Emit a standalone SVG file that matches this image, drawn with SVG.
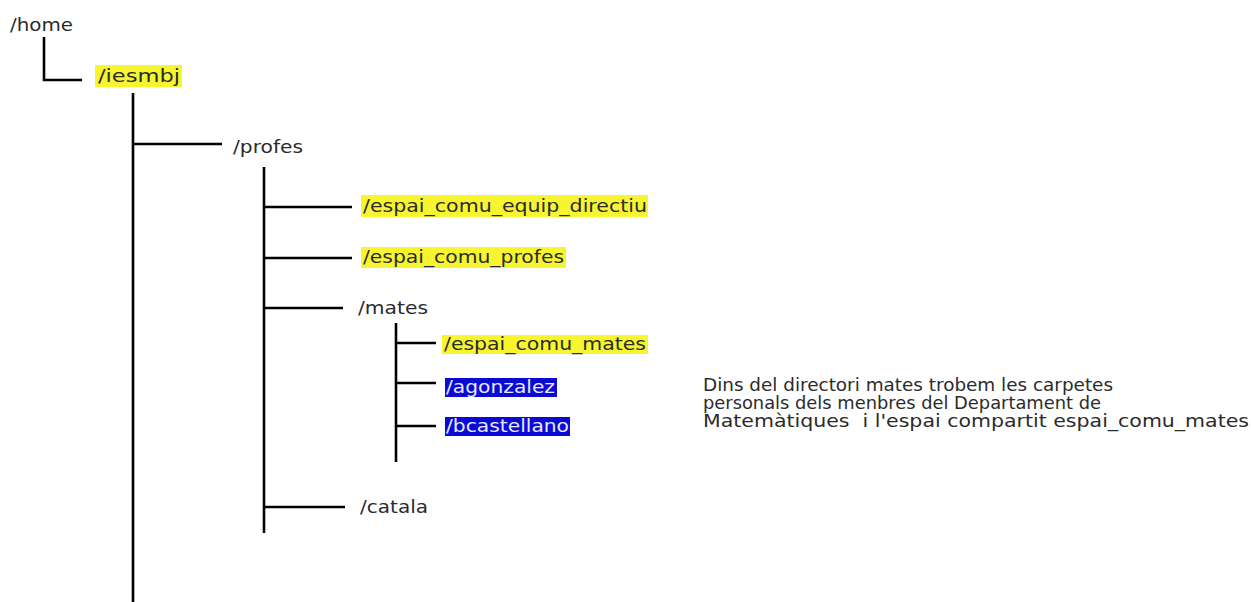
<svg xmlns="http://www.w3.org/2000/svg" width="1251" height="602" viewBox="0 0 1251 602">
  <style>
    .ln { stroke: #000; stroke-width: 2.6; fill: none; stroke-linecap: butt; }
    .t { font-family: "DejaVu Sans", "Liberation Sans", sans-serif; font-size: 18px; fill: #2b2b2b; }
    .tb { font-family: "DejaVu Sans", "Liberation Sans", sans-serif; font-size: 18px; fill: #e8e8ff; }
    .note { font-family: "DejaVu Sans", "Liberation Sans", sans-serif; font-size: 17px; fill: #2b2b2b; }
    .hy { fill: #f7f530; }
    .hb { fill: #0a0ad6; }
  </style>

  <!-- tree branches -->
  <g id="connectors">
    <path class="ln" d="M44,37 V80 H82"/>
    <path class="ln" d="M133,93 V602"/>
    <path class="ln" d="M133,144 H222"/>
    <path class="ln" d="M264,167 V533"/>
    <path class="ln" d="M264,207 H352"/>
    <path class="ln" d="M264,258 H352"/>
    <path class="ln" d="M264,308 H343"/>
    <path class="ln" d="M264,507 H345"/>
    <path class="ln" d="M396,323 V462"/>
    <path class="ln" d="M396,343 H436"/>
    <path class="ln" d="M396,383 H436"/>
    <path class="ln" d="M396,426 H436"/>
  </g>

  <g id="home">
    <text class="t" x="10" y="31" textLength="63" lengthAdjust="spacingAndGlyphs">/home</text>
  </g>

  <g id="iesmbj">
    <rect class="hy" x="95" y="65" width="87" height="22"/>
    <text class="t" x="98" y="82" textLength="82" lengthAdjust="spacingAndGlyphs">/iesmbj</text>
  </g>

  <g id="profes">
    <text class="t" x="233" y="153" textLength="70" lengthAdjust="spacingAndGlyphs">/profes</text>
  </g>

  <g id="espai_comu_equip_directiu">
    <rect class="hy" x="361" y="195" width="287" height="22"/>
    <text class="t" x="363" y="212" textLength="284" lengthAdjust="spacingAndGlyphs">/espai_comu_equip_directiu</text>
  </g>

  <g id="espai_comu_profes">
    <rect class="hy" x="361" y="247" width="205" height="21"/>
    <text class="t" x="363" y="263" textLength="201" lengthAdjust="spacingAndGlyphs">/espai_comu_profes</text>
  </g>

  <g id="mates">
    <text class="t" x="358" y="314" textLength="70" lengthAdjust="spacingAndGlyphs">/mates</text>
  </g>

  <g id="espai_comu_mates">
    <rect class="hy" x="442" y="335" width="206" height="19"/>
    <text class="t" x="444" y="350" textLength="202" lengthAdjust="spacingAndGlyphs">/espai_comu_mates</text>
  </g>

  <g id="agonzalez">
    <rect class="hb" x="445" y="378" width="112" height="19"/>
    <text class="tb" x="446" y="393" textLength="109" lengthAdjust="spacingAndGlyphs">/agonzalez</text>
  </g>

  <g id="bcastellano">
    <rect class="hb" x="445" y="417" width="125" height="19"/>
    <text class="tb" x="446" y="432" textLength="123" lengthAdjust="spacingAndGlyphs">/bcastellano</text>
  </g>

  <g id="catala">
    <text class="t" x="360" y="513" textLength="68" lengthAdjust="spacingAndGlyphs">/catala</text>
  </g>

  <!-- explanatory note -->
  <g id="note">
    <text class="note" x="703" y="391" textLength="410" lengthAdjust="spacingAndGlyphs">Dins del directori mates trobem les carpetes</text>
    <text class="note" x="703" y="409" textLength="398" lengthAdjust="spacingAndGlyphs">personals dels menbres del Departament de</text>
    <text class="note" x="703" y="427" textLength="546" lengthAdjust="spacingAndGlyphs" xml:space="preserve">Matemàtiques  i l'espai compartit espai_comu_mates</text>
  </g>
</svg>
